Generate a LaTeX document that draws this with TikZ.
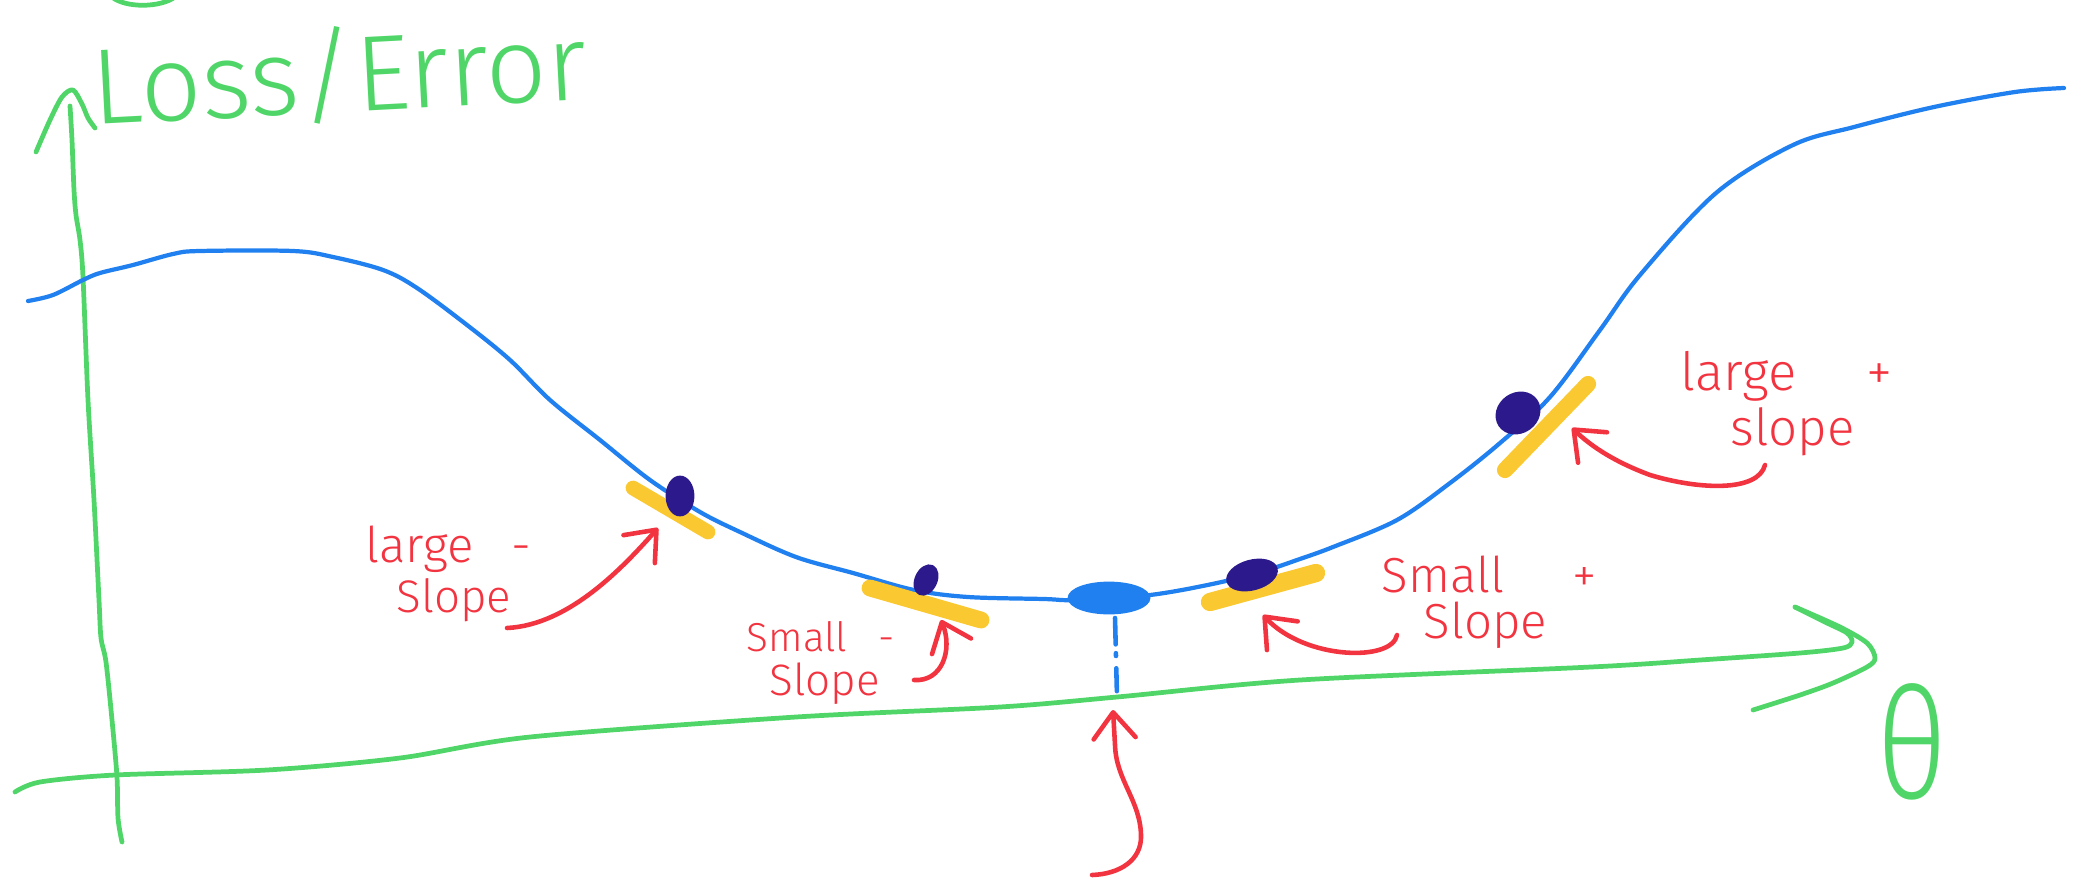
\documentclass[tikz,border=0pt]{standalone}
\usepackage{fontspec}
\IfFontExistsTF{Fira Sans Light}{\newfontfamily\hand{Fira Sans Light}}{\newfontfamily\hand{Fira Sans}}
\usetikzlibrary{arrows.meta}
\definecolor{pengreen}{RGB}{80,214,104}
\definecolor{penblue}{RGB}{32,128,240}
\definecolor{penindigo}{RGB}{44,26,140}
\definecolor{penyellow}{RGB}{250,200,48}
\definecolor{penred}{RGB}{242,52,64}
\begin{document}
\begin{tikzpicture}[x=0.01cm,y=-0.01cm,line cap=round,line join=round,
  greenpen/.style={draw=pengreen,line width=1.35pt},
  bluepen/.style={draw=penblue,line width=1.2pt},
  redpen/.style={draw=penred,line width=1.3pt},
  redarrow/.style={redpen,-{Straight Barb[length=2.6mm,width=4.2mm,round]}},
  hilite/.style={draw=penyellow,line width=4.2pt},
  darkdot/.style={fill=penindigo,draw=penindigo,line width=0.8pt},
  lbl/.style={text=penred,inner sep=0pt,anchor=base west},
  hand/.style={font={\hand\fontsize{#1}{#1}\selectfont}}]
\useasboundingbox (0,0) rectangle (2083,882);
\clip (0,0) rectangle (2083,882);
% stray green stroke at the top edge
\draw[greenpen] (112,-3) .. controls (125,8) and (160,8) .. (175,-3);
% y axis
\draw[greenpen] plot[smooth,tension=0.5] coordinates {(122,842) (118,818) (117,777) (112,720) (106,662) (101,638) (99,600) (94,500) (88,400) (83,277) (80,240) (76,215) (74,190) (72,140) (70,106)};
\draw[greenpen] plot[smooth,tension=0.5] coordinates {(36,152) (50,120) (62,97) (73,90) (82,104) (88,118) (95,128)};
% x axis
\draw[greenpen] plot[smooth,tension=0.5] coordinates {(15,792) (40,782) (115,775) (267,770) (400,758) (530,737) (796,717) (1000,707) (1117,697) (1300,680) (1591,667) (1700,660) (1800,653) (1843,648) (1852,642) (1847,633) (1827,623) (1795,607)};
\draw[greenpen] plot[smooth,tension=0.5] coordinates {(1795,607) (1840,627) (1867,643) (1875,658) (1867,667) (1833,683) (1800,695) (1753,710)};
% loss curve
\draw[bluepen] plot[smooth,tension=0.55] coordinates {(28,301) (53,295) (83,280) (100,273) (133,265) (173,254) (200,251) (293,251) (333,257) (383,270) (417,288) (467,325) (510,360) (550,400) (600,440) (650,480) (700,512) (740,532) (796,557) (853,573) (914,590) (968,597) (1044,599) (1075,600) (1150,595) (1217,583) (1267,570) (1297,560) (1333,547) (1397,520) (1450,483) (1500,443) (1550,397) (1600,330) (1640,275) (1716,193) (1793,145) (1854,127) (1934,107) (2015,92) (2064,88)};
% tangent highlights
\draw[hilite] (633,488) -- (708,532);
\draw[hilite,line width=4.8pt] (870,588) -- (981,620);
\draw[hilite,line width=5.2pt] (1210,602) -- (1316,573);
\draw[hilite,line width=4.6pt] (1505,470) -- (1588,384);
% points on the curve
\path[darkdot] (680,496) ellipse [x radius=13,y radius=19];
\path[darkdot,rotate around={-25:(926,580)}] (926,580) ellipse [x radius=10,y radius=15];
\path[darkdot,rotate around={15:(1252,575)}] (1252,575) ellipse [x radius=25,y radius=14];
\path[darkdot,rotate around={35:(1518,413)}] (1518,413) ellipse [x radius=22,y radius=19];
\path[fill=penblue,draw=penblue,line width=0.8pt] (1109,598) ellipse [x radius=40,y radius=15];
% drop line to the minimum
\draw[penblue,line width=1.3pt,dash pattern=on 7.5pt off 2.5pt on 0.8pt off 3.5pt on 6.5pt off 20pt] (1115,618) -- (1117,697);
% title and axis label
\node[lbl,hand=30.5pt,text=pengreen,rotate=3] (title) at (93,125) {Loss/Error};
\node[hand=44pt,text=pengreen,inner sep=0pt,xscale=0.8] (theta) at (1912,742) {θ};
% labels
\node[lbl,hand=14pt] (l1a) at (365,562) {large\hspace{2.4mm} -};
\node[lbl,hand=13pt] (l1b) at (396,612) {Slope};
\node[lbl,hand=11.5pt] (l2a) at (746,651) {Small\hspace{2mm} -};
\node[lbl,hand=12.5pt] (l2b) at (769,695) {Slope};
\node[lbl,hand=14pt] (l3a) at (1381,592) {Small\hspace{5.5mm} +};
\node[lbl,hand=14pt] (l3b) at (1423,638) {Slope};
\node[lbl,hand=15pt] (l4a) at (1680,390) {large\hspace{5.5mm} +};
\node[lbl,hand=14.5pt] (l4b) at (1730,445) {slope};
% arrow end points
\coordinate (t1) at (507,628);  \coordinate (h1) at (658,528);
\coordinate (t2) at (914,680);  \coordinate (h2) at (941,620);
\coordinate (t3) at (1397,635); \coordinate (h3) at (1263,615);
\coordinate (t4) at (1765,465); \coordinate (h4) at (1572,428);
\coordinate (t5) at (1092,875); \coordinate (h5) at (1113,710);
\draw[redarrow] (t1) .. controls (570,625) and (625,565) .. (h1);
\draw[redarrow] (t2) .. controls (942,682) and (953,650) .. (h2);
\draw[redarrow] (t3) .. controls (1392,662) and (1305,660) .. (h3);
\draw[redarrow] (t4) .. controls (1758,492) and (1700,490) .. (1650,475) .. controls (1615,462) and (1592,447) .. (h4);
\draw[redarrow] (t5) .. controls (1120,874) and (1142,860) .. (1141,835) .. controls (1140,800) and (1116,780) .. (1115,745) -- (h5);
\end{tikzpicture}
\end{document}
